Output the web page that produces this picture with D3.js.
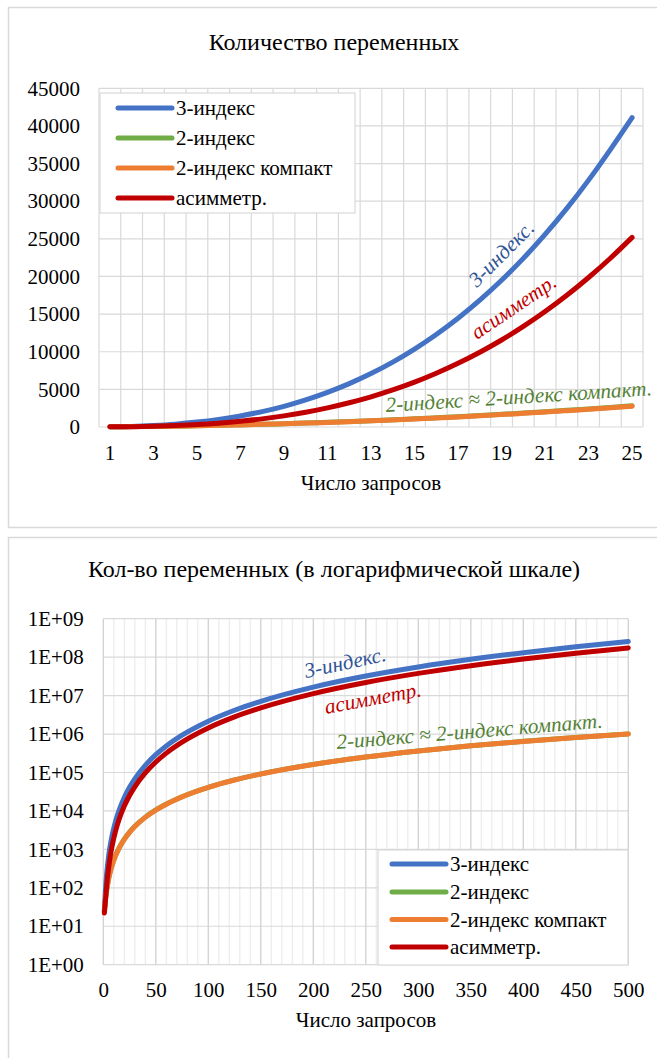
<!DOCTYPE html>
<html>
<head>
<meta charset="utf-8">
<script src="https://cdnjs.cloudflare.com/ajax/libs/d3/7.8.5/d3.min.js"></script>
<style>
  body { margin: 0; background: #fff; }
  svg { display: block; }
  text { font-family: "Liberation Serif", "DejaVu Serif", serif; fill: #000; }
</style>
</head>
<body>
<svg id="chart" width="657" height="1058"></svg>
<script>
// ---------- series definitions ----------
const seriesNames  = ["3-индекс", "2-индекс", "2-индекс компакт", "асимметр."];
const seriesColors = ["#4472C4", "#70AD47", "#ED7D31", "#C00000"];
const noteColors   = { idx3: "#2F5597", asym: "#C00000", idx2: "#548235" };

// ---------- linear chart: 1..25 requests ----------
const linRequests = [1,2,3,4,5,6,7,8,9,10,11,12,13,14,15,16,17,18,19,20,21,22,23,24,25];
const lin3idx   = [20,80,200,380,650,1010,1470,2050,2750,3600,4600,5760,7100,8620,10350,12290,14450,16850,19490,22400,25580,29040,32800,36860,41100];
const lin2idx   = [25,50,80,120,170,225,290,360,440,530,625,730,840,960,1090,1225,1370,1520,1680,1850,2025,2210,2400,2600,2810];
const lin2idxC  = [24,47,78,116,163,218,281,351,430,516,610,712,822,940,1066,1200,1342,1492,1650,1816,1990,2172,2362,2560,2766];
const linAsym   = [20,45,95,190,320,510,760,1080,1480,1960,2540,3220,4010,4920,5960,7140,8460,9930,11560,13360,15340,17500,19860,22420,25190];
const linYTicks = [0,5000,10000,15000,20000,25000,30000,35000,40000,45000];
const linXLabels = [1,3,5,7,9,11,13,15,17,19,21,23,25];

// ---------- log chart: up to 500 requests ----------
const logRequests = [1,2,3,4,5,6,8,10,12,15,20,25,30,40,50,60,75,100,125,150,200,250,300,350,400,450,500];
const log3idx  = [24,80,200,380,650,1010,2050,3600,5760,10350,22400,41100,68400,153600,290000,489600,933750,2160000,4160000,7110000,16640000,32250000,55440000,87710000,130560000,185490000,254000000];
const log2idx  = [25,49,81,121,169,225,361,529,729,1089,1849,2809,3969,6889,10609,15129,23409,41209,64009,91809,162409,253009,363609,494209,644809,815409,1006009];
const log2idxC = [24,47,78,116,163,218,351,516,712,1066,1816,2766,3912,6806,10500,14990,23220,40920,63600,91260,161600,251900,362200,492500,642800,813000,1003000];
const logAsym  = [22,45,95,190,320,510,1080,1960,3220,5960,13360,25190,42480,97600,187000,319000,615000,1438000,2786000,4788000,11270000,21930000,37780000,59880000,89250000,126900000,174000000];
const logYTicks = [1,10,100,1000,10000,100000,1000000,10000000,100000000,1000000000];
const logYLabels = ["1E+00","1E+01","1E+02","1E+03","1E+04","1E+05","1E+06","1E+07","1E+08","1E+09"];
const logXTicks = [0,50,100,150,200,250,300,350,400,450,500];

const svg = d3.select("#chart");
const GRID = "#d9d9d9";
const FS = 21;          // tick, legend and axis-title size
const TITLE_FS = 24;
const NOTE_FS = 21.2;

// panels
svg.append("rect").attr("x", 8.5).attr("y", 7.5).attr("width", 700).attr("height", 520)
  .attr("fill", "#fff").attr("stroke", GRID).attr("stroke-width", 1.5);
svg.append("rect").attr("x", 8.5).attr("y", 537.5).attr("width", 700).attr("height", 600)
  .attr("fill", "#fff").attr("stroke", GRID).attr("stroke-width", 1.5);

function drawLegend(g, x0, y0, w, h, rowYs, swX0, swX1, txtX) {
  g.append("rect").attr("x", x0).attr("y", y0).attr("width", w).attr("height", h)
    .attr("fill", "#fff").attr("stroke", GRID).attr("stroke-width", 1.2);
  seriesNames.forEach((name, i) => {
    g.append("line").attr("x1", swX0).attr("x2", swX1).attr("y1", rowYs[i]).attr("y2", rowYs[i])
      .attr("stroke", seriesColors[i]).attr("stroke-width", 5).attr("stroke-linecap", "round");
    g.append("text").attr("x", txtX).attr("y", rowYs[i]).attr("dy", "0.35em")
      .attr("font-size", FS).text(name);
  });
}

function note(g, x, y, angle, color, txt) {
  g.append("text").attr("transform", `translate(${x},${y}) rotate(${angle})`)
    .attr("font-size", NOTE_FS).attr("font-style", "italic").style("fill", color).text(txt);
}

function styleAxis(a) {
  a.select(".domain").remove();
  a.attr("font-family", null);
  a.selectAll("text").attr("font-size", FS);
}

// ================= linear chart =================
{
  const g = svg.append("g");
  const x = d3.scaleBand().domain(linRequests).range([99, 643]);
  const cx = d => x(d) + x.bandwidth() / 2;
  const y = d3.scaleLinear().domain([0, 45000]).range([427, 88.3]);

  g.append("text").attr("x", 334).attr("y", 50).attr("text-anchor", "middle")
    .attr("font-size", TITLE_FS).text("Количество переменных");

  // grid: one vertical line per category boundary, one horizontal per tick
  const bounds = linRequests.map(d => x(d)).concat([x.range()[1]]);
  g.selectAll(".vg").data(bounds).join("line")
    .attr("x1", d => d).attr("x2", d => d).attr("y1", y(45000)).attr("y2", y(0))
    .attr("stroke", GRID).attr("stroke-width", 1.2);
  g.selectAll(".hg").data(linYTicks).join("line")
    .attr("x1", 99).attr("x2", 643).attr("y1", d => y(d)).attr("y2", d => y(d))
    .attr("stroke", GRID).attr("stroke-width", 1.2);

  const ya = g.append("g").attr("transform", "translate(99,0)")
    .call(d3.axisLeft(y).tickValues(linYTicks).tickSize(0).tickPadding(19).tickFormat(d3.format("d")));
  styleAxis(ya);

  const xa = g.append("g").attr("transform", "translate(0,427)")
    .call(d3.axisBottom(x).tickValues(linXLabels).tickSize(0).tickPadding(18));
  styleAxis(xa);

  g.append("text").attr("x", 371).attr("y", 490).attr("text-anchor", "middle")
    .attr("font-size", FS).text("Число запросов");

  const sets = [lin3idx, lin2idx, lin2idxC, linAsym];
  const line = d3.line().x((d, i) => cx(linRequests[i])).y(d => y(d)).curve(d3.curveMonotoneX);
  sets.forEach((s, i) => {
    g.append("path").datum(s).attr("d", line).attr("fill", "none")
      .attr("stroke", seriesColors[i]).attr("stroke-width", 5)
      .attr("stroke-linecap", "round").attr("stroke-linejoin", "round");
  });

  drawLegend(g, 100, 93, 255, 120, [108, 138, 168, 198], 118, 172, 176);

  note(g, 477, 288, -45, noteColors.idx3, "3-индекс.");
  note(g, 477, 340, -34, noteColors.asym, "асимметр.");
  note(g, 386, 412, -3.6, noteColors.idx2, "2-индекс ≈ 2-индекс компакт.");
}

// ================= log chart =================
{
  const g = svg.append("g");
  const x = d3.scaleLinear().domain([0, 500]).range([103.3, 628.3]);
  const y = d3.scaleLog().domain([1, 1e9]).range([964.7, 618.7]);

  g.append("text").attr("x", 334).attr("y", 577).attr("text-anchor", "middle")
    .attr("font-size", TITLE_FS).text("Кол-во переменных (в логарифмической шкале)");

  // minor vertical grid every 10, major every 50
  const minor = d3.range(0, 501, 10).filter(d => d % 50 !== 0);
  g.selectAll(".mg").data(minor).join("line")
    .attr("x1", d => x(d)).attr("x2", d => x(d)).attr("y1", y(1e9)).attr("y2", y(1))
    .attr("stroke", "#ebebeb").attr("stroke-width", 1.2);
  g.selectAll(".hg").data(logYTicks).join("line")
    .attr("x1", x(0)).attr("x2", x(500)).attr("y1", d => y(d)).attr("y2", d => y(d))
    .attr("stroke", GRID).attr("stroke-width", 1.2);
  g.selectAll(".vg").data(logXTicks).join("line")
    .attr("x1", d => x(d)).attr("x2", d => x(d)).attr("y1", y(1e9)).attr("y2", y(1))
    .attr("stroke", "#d4d4d4").attr("stroke-width", 1.4);

  const ya = g.append("g").attr("transform", `translate(${x(0)},0)`)
    .call(d3.axisLeft(y).tickValues(logYTicks).tickSize(0).tickPadding(19.5)
      .tickFormat((d, i) => logYLabels[i]));
  styleAxis(ya);

  const xa = g.append("g").attr("transform", `translate(0,${y(1)})`)
    .call(d3.axisBottom(x).tickValues(logXTicks).tickSize(0).tickPadding(17));
  styleAxis(xa);

  g.append("text").attr("x", 366).attr("y", 1027).attr("text-anchor", "middle")
    .attr("font-size", FS).text("Число запросов");

  const sets = [log3idx, log2idx, log2idxC, logAsym];
  const line = d3.line().x((d, i) => x(logRequests[i])).y(d => y(d)).curve(d3.curveMonotoneX);
  sets.forEach((s, i) => {
    g.append("path").datum(s).attr("d", line).attr("fill", "none")
      .attr("stroke", seriesColors[i]).attr("stroke-width", 5)
      .attr("stroke-linecap", "round").attr("stroke-linejoin", "round");
  });

  drawLegend(g, 378, 850, 250, 115, [864, 892, 919.5, 947], 392, 446, 450);

  note(g, 306, 678, -12, noteColors.idx3, "3-индекс.");
  note(g, 326, 714, -10.5, noteColors.asym, "асимметр.");
  note(g, 337, 749, -4.6, noteColors.idx2, "2-индекс ≈ 2-индекс компакт.");
}
</script>
</body>
</html>
